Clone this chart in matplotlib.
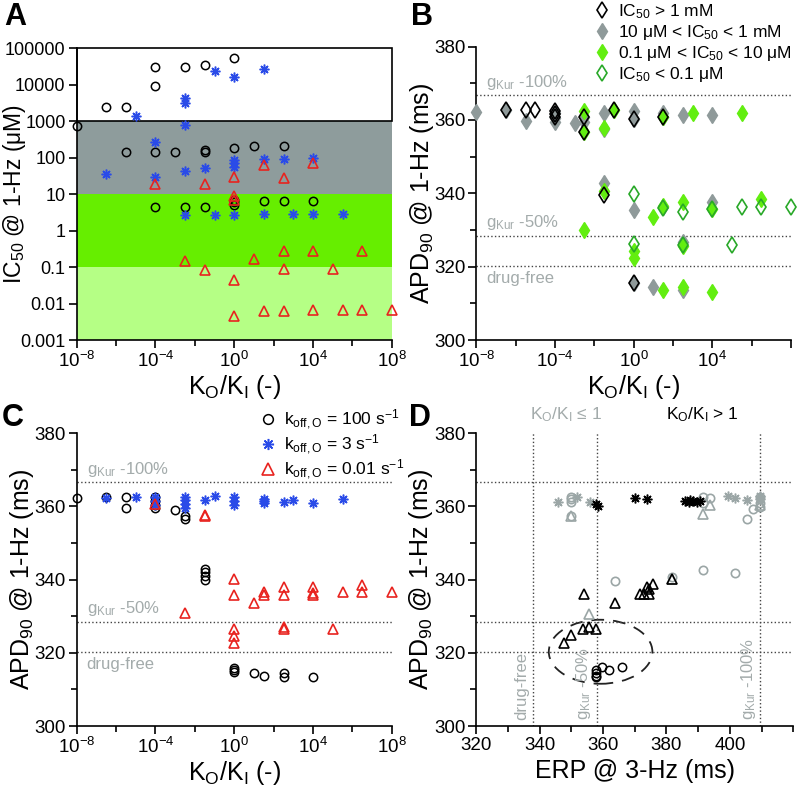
import matplotlib.pyplot as plt
import numpy as np
from matplotlib.patches import Rectangle, Ellipse
from matplotlib.lines import Line2D
from matplotlib.ticker import FixedLocator, NullFormatter, MultipleLocator

plt.rcParams['font.family'] = ['Liberation Sans', 'DejaVu Sans']
plt.rcParams['mathtext.fontset'] = 'custom'
plt.rcParams['mathtext.rm'] = 'Liberation Sans'
plt.rcParams['mathtext.it'] = 'Liberation Sans:italic'
plt.rcParams['mathtext.bf'] = 'Liberation Sans:bold'

# ---------------- data (x values as log10 of KO/KI) ----------------
# Panel A: IC50 @ 1-Hz (uM)
a_circ_x = [-8, -6.5, -5.5, -5.5, -4, -4, -4, -3, -2.5, -1.5, -1.5, -1.5, 0, 0, 1, 2.5,
            -4, -2.5, -1.5, 0, 0, 0, 1.5, 2.5, 4]
a_circ_y = [730, 2450, 2450, 145, 31000, 9100, 145, 145, 31000, 34000, 165, 145, 53000, 180, 205, 205,
            4.3, 4.3, 4.3, 6.8, 5.9, 5.0, 6.5, 6.5, 6.5]
a_ast_x = [-6.5, -5, -4, -4, -2.5, -2.5, -2.5, -2.5, -1.5, -1, 0, 0, 0, 0, 1.5, 1.5, 2.5, 4,
           -2.5, -1, 0, 1.5, 3, 4, 5.5]
a_ast_y = [36, 1380, 270, 30, 4200, 3100, 780, 43, 52, 23000, 16500, 85, 69, 57, 27000, 92, 92, 96,
           2.7, 2.7, 2.7, 2.8, 2.8, 2.8, 2.8]
a_tri_x = [-4, -1.5, 0, 0, 0, 1.5, 2.5, 4, -2.5, -1.5, 0, 0, 1, 1.5, 2.5, 2.5, 2.5, 4, 4, 5, 5.5, 6.5, 6.5, 8]
a_tri_y = [19, 19.5, 29, 8.7, 7.0, 62, 27, 72, 0.148, 0.082, 0.044, 0.0045, 0.17, 0.0064, 0.27, 0.087,
           0.0064, 0.27, 0.0068, 0.091, 0.0068, 0.27, 0.0068, 0.0068]

# Panel B: APD90 @ 1-Hz (ms) grouped by IC50 range
b_hi_x = [-6.5, -5.5, -5, -4, -4, -4, -2.5, -2.5, -1, 0, 1.5, -1.5, 0]
b_hi_y = [362.6, 362.6, 362.6, 362.3, 361.5, 360.8, 360.9, 356.8, 362.6, 360.2, 360.8, 339.6, 315.6]
b_mid_x = [-8, -6.5, -5.5, -4, -4, -4, -3, -2.5, -2.5, -1.5, -1.5, 0, 0, 1.5, 1.5, 2.5, 4,
           -1.5, 0, 1.5, 4, 2.5, 0, 1, 2.5]
b_mid_y = [362.1, 362.6, 359.6, 362.0, 360.5, 359.3, 359.1, 359.5, 360.9, 361.9, 357.5, 362.3, 360.2,
           361.9, 360.8, 361.3, 361.4, 342.8, 335.5, 336.2, 337.7, 326.8, 315.6, 314.4, 313.6]
b_low_x = [-2.5, -2.5, -1.5, -1, 1.5, 3, 5.5, -1.5, -2.5, 1, 2.5, 4, 6.5, 0, 0, 2.5, 1.5, 2.5, 4, 1.5]
b_low_y = [362.3, 356.8, 357.8, 362.6, 360.8, 361.8, 361.9, 340.7, 330.0, 333.5, 337.5, 335.7, 338.4,
           324.4, 322.3, 325.7, 313.6, 314.4, 313.2, 336.5]
b_vlow_x = [0, 0, 1.5, 2.5, 4, 5.5, 6.5, 8, 5, 2.5]
b_vlow_y = [339.8, 326.2, 336.0, 335.0, 335.7, 336.2, 336.2, 336.2, 325.9, 326.0]

# Panel C: APD90 @ 1-Hz (ms) grouped by koff,O
c_circ_x = [-8, -6.5, -5.5, -5.5, -4, -4, -4, -4, -3, -2.5, -2.5, -1.5, -1.5, -1.5, -1.5,
            0, 0, 0, 1, 1.5, 2.5, 2.5, 4]
c_circ_y = [362.2, 362.7, 362.7, 359.7, 362.5, 361.5, 360.5, 359.5, 359.0, 357.5, 356.5, 343, 342, 341, 340,
            315.8, 315.3, 314.8, 314.4, 313.7, 314.4, 313.3, 313.3]
c_ast_x = [-6.5, -5, -4, -4, -4, -2.5, -2.5, -2.5, -2.5, -1.5, -1, 0, 0, 0, 1.5, 1.5, 1.5, 2.5, 3, 4, 5.5]
c_ast_y = [362.4, 362.5, 362.5, 361.5, 360.5, 362.7, 361.7, 360.8, 359.5, 361.8, 362.9, 362.5, 361.5, 360.5,
           362.0, 361.5, 361.0, 361.2, 361.7, 361.0, 362.0]
c_tri_x = [-4, -1.5, -1.5, 0, 0, 0, 0, 0, -2.5, 1, 1.5, 1.5, 2.5, 2.5, 2.5, 2.5, 4, 4, 4, 5, 5.5, 6.5, 6.5, 8]
c_tri_y = [360.8, 357.8, 357.3, 340.2, 335.8, 326.4, 324.6, 322.8, 330.8, 333.7, 336.7, 335.8, 338.1, 335.8,
           327.1, 326.4, 338.1, 336.3, 335.8, 326.4, 336.7, 338.5, 336.7, 336.7]

# Panel D: APD90 vs ERP @ 3-Hz (ms); gray KO/KI <= 1, black KO/KI > 1
d_g_circ_x = [350, 350, 350, 350, 391.6, 393.7, 391.6, 405.3, 407.4, 409.5, 409.5, 409.5, 363.7, 391.6, 401.6, 381.6]
d_g_circ_y = [362.7, 362.0, 361.3, 357.5, 362.7, 362.2, 361.0, 356.7, 359.3, 362.5, 361.0, 359.8, 339.7, 342.6,
              341.9, 340.8]
d_g_ast_x = [345.8, 351.6, 355.8, 399.5, 401.6, 405.3, 409.5, 409.5]
d_g_ast_y = [361.3, 362.7, 361.3, 362.9, 362.2, 361.9, 363.0, 362.0]
d_g_tri_x = [350, 393.7, 391.6, 381.6, 355.6, 409.5]
d_g_tri_y = [357.3, 360.5, 357.9, 340.3, 330.6, 360.5]
d_k_ast_x = [357.9, 358.3, 370, 373.7, 386, 387, 388.4, 389.5, 390.5, 387.5]
d_k_ast_y = [360.6, 360.2, 362.2, 362.0, 361.5, 361.2, 361.5, 361.2, 361.4, 361.8]
d_k_tri_x = [373.7, 375.8, 374.5, 354, 363.7, 371.5, 373, 374.5, 353.7, 355.6, 357.9, 350, 347.7, 381.6]
d_k_tri_y = [338.1, 338.7, 337.5, 336.1, 333.7, 336.2, 336.0, 336.1, 326.4, 327.0, 326.4, 324.9, 322.8, 340.3]
d_k_circ_x = [357.9, 357.9, 357.9, 357.9, 359.8, 361.9, 365.8]
d_k_circ_y = [315.3, 314.6, 313.8, 313.3, 316.0, 315.3, 316.0]

ref_lines = [366.8, 328.3, 320.3]   # gKur -100%, gKur -50%, drug-free
erp_refs = [338, 358, 409.5]        # drug-free, gKur -50%, gKur -100%

GRAY_REG = '#8e9c9c'
GREEN_REG = '#66ee00'
LGREEN_REG = '#b5ff85'
BLUE = '#2a4be8'
RED = '#e8231f'
GRAY_TXT = '#a3abab'
GRAY_MK = '#8f9a9a'
GREEN_MK = '#62ee10'
GREEN_OPEN = '#28a828'
AST = (8, 2, 0)

TICK = 13.5
LAB = 18

fig = plt.figure(figsize=(7.98, 7.89), dpi=100)
axA = fig.add_axes([0.0961, 0.569, 0.395, 0.370])
axB = fig.add_axes([0.597, 0.569, 0.394, 0.372])
axC = fig.add_axes([0.0961, 0.0798, 0.395, 0.371])
axD = fig.add_axes([0.597, 0.0798, 0.397, 0.371])


def style(ax):
    for s in ['top', 'right']:
        ax.spines[s].set_visible(False)
    for s in ['left', 'bottom']:
        ax.spines[s].set_linewidth(1.2)
    ax.tick_params(which='major', direction='out', length=6, width=1.2, labelsize=TICK, pad=2)
    ax.tick_params(which='minor', direction='out', length=4, width=1.2)


def ko_axis(ax, last=True):
    ax.set_xscale('log')
    ax.set_xlim(1e-8, 1e8)
    ax.set_xticks([1e-8, 1e-4, 1, 1e4, 1e8])
    labs = [r'10$^{\mathregular{-8}}$', r'10$^{\mathregular{-4}}$', r'10$^{\mathregular{0}}$',
            r'10$^{\mathregular{4}}$', r'10$^{\mathregular{8}}$' if last else '']
    ax.set_xticklabels(labs)
    ax.xaxis.set_minor_locator(FixedLocator([1e-6, 1e-2, 1e2, 1e6]))
    ax.xaxis.set_minor_formatter(NullFormatter())
    ax.set_xlabel(r'K$_{\mathregular{O}}$/K$_{\mathregular{I}}$ (-)', fontsize=LAB)
    ax.xaxis.set_label_coords(0.5, -0.112)


def apd_axis(ax):
    ax.set_ylim(300, 380)
    ax.yaxis.set_major_locator(MultipleLocator(20))
    ax.yaxis.set_minor_locator(MultipleLocator(10))
    ax.set_ylabel(r'APD$_{\mathregular{90}}$ @ 1-Hz (ms)', fontsize=LAB)
    ax.yaxis.set_label_coords(-0.13, 0.5)


def pts(ax, x, y, logx=True, **kw):
    xv = 10.0 ** np.array(x) if logx else np.array(x)
    ax.plot(xv, y, linestyle='none', clip_on=False, **kw)


# ---------------- Panel A ----------------
style(axA)
axA.set_yscale('log')
axA.set_ylim(1e-3, 1e5)
ko_axis(axA)
axA.tick_params(axis='y', labelsize=13)
axA.axhspan(1e-3, 1e-1, color=LGREEN_REG, lw=0, zorder=0)
axA.axhspan(1e-1, 1e1, color=GREEN_REG, lw=0, zorder=0)
axA.axhspan(1e1, 1e3, color=GRAY_REG, lw=0, zorder=0)
axA.add_patch(Rectangle((1e-8, 1e3), 1e8 - 1e-8, 1e5 - 1e3, fill=False, ec='black', lw=1.2, zorder=1,
                        clip_on=False))
yt = [1e-3, 1e-2, 1e-1, 1, 10, 100, 1000, 10000, 100000]
axA.set_yticks(yt)
axA.set_yticklabels(['0.001', '0.01', '0.1', '1', '10', '100', '1000', '10000', '100000'])
axA.yaxis.set_minor_locator(FixedLocator([]))
fig.text(1 / 798, 1 - 194 / 789, r'IC$_{\mathregular{50}}$ @ 1-Hz (μM)', fontsize=16.5, rotation=90,
         ha='left', va='center')
pts(axA, a_circ_x, a_circ_y, marker='o', ms=6, mfc='none', mec='black', mew=1.1, zorder=3)
pts(axA, a_ast_x, a_ast_y, marker=AST, ms=7, mec=BLUE, mew=1.1, zorder=3)
pts(axA, a_tri_x, a_tri_y, marker='^', ms=7, mfc='none', mec=RED, mew=1.2, zorder=3)

# ---------------- Panel B ----------------
style(axB)
ko_axis(axB, last=False)
apd_axis(axB)
for yv in ref_lines:
    axB.axhline(yv, color='#444444', ls=':', lw=1.0)
pts(axB, b_mid_x, b_mid_y, marker='d', ms=8, mfc=GRAY_MK, mec=GRAY_MK, mew=1, zorder=3)
pts(axB, b_low_x, b_low_y, marker='d', ms=8, mfc=GREEN_MK, mec=GREEN_MK, mew=1, zorder=4)
pts(axB, b_vlow_x, b_vlow_y, marker='d', ms=8, mfc='none', mec=GREEN_OPEN, mew=1.2, zorder=5)
pts(axB, b_hi_x, b_hi_y, marker='d', ms=8, mfc='none', mec='black', mew=1.2, zorder=6)

# ---------------- Panel C ----------------
style(axC)
ko_axis(axC)
apd_axis(axC)
for yv in ref_lines:
    axC.axhline(yv, color='#444444', ls=':', lw=1.0)
pts(axC, c_circ_x, c_circ_y, marker='o', ms=6, mfc='none', mec='black', mew=1.1, zorder=3)
pts(axC, c_ast_x, c_ast_y, marker=AST, ms=7, mec=BLUE, mew=1.1, zorder=4)
pts(axC, c_tri_x, c_tri_y, marker='^', ms=7, mfc='none', mec=RED, mew=1.2, zorder=5)

for ax in (axB, axC):
    ax.text(10 ** -7.5, 367.6, r'g$_{\mathregular{Kur}}$ -100%', color=GRAY_TXT, fontsize=12, va='bottom')
    ax.text(10 ** -7.5, 329.4, r'g$_{\mathregular{Kur}}$ -50%', color=GRAY_TXT, fontsize=12, va='bottom')
    ax.text(10 ** -7.5, 318.9, 'drug-free', color=GRAY_TXT, fontsize=12, va='top')

# ---------------- Panel D ----------------
style(axD)
apd_axis(axD)
axD.set_xlim(320, 420)
axD.xaxis.set_major_locator(FixedLocator([320, 340, 360, 380, 400]))
axD.xaxis.set_minor_locator(FixedLocator([330, 350, 370, 390, 410, 420]))
axD.set_xlabel('ERP @ 3-Hz (ms)', fontsize=LAB)
axD.xaxis.set_label_coords(0.5, -0.112)
for yv in ref_lines:
    axD.axhline(yv, color='#444444', ls=':', lw=1.0)
for xv in erp_refs:
    axD.axvline(xv, color='#444444', ls=':', lw=1.0)
axD.add_patch(Ellipse((359.2, 320.3), 32.7, 17.5, fill=False, ec='#222222', lw=1.3, ls=(0, (7, 5))))
DG = '#9ba6a6'
pts(axD, d_g_circ_x, d_g_circ_y, logx=False, marker='o', ms=6, mfc='none', mec=DG, mew=1.2, zorder=3)
pts(axD, d_g_ast_x, d_g_ast_y, logx=False, marker=AST, ms=7, mec=DG, mew=1.1, zorder=3)
pts(axD, d_g_tri_x, d_g_tri_y, logx=False, marker='^', ms=7, mfc='none', mec=DG, mew=1.2, zorder=3)
pts(axD, d_k_circ_x, d_k_circ_y, logx=False, marker='o', ms=6, mfc='none', mec='black', mew=1.1, zorder=4)
pts(axD, d_k_ast_x, d_k_ast_y, logx=False, marker=AST, ms=7, mec='black', mew=1.1, zorder=4)
pts(axD, d_k_tri_x, d_k_tri_y, logx=False, marker='^', ms=7, mfc='none', mec='black', mew=1.2, zorder=4)
axD.text(334.2, 301.6, 'drug-free', rotation=90, color=GRAY_TXT, fontsize=12, ha='center', va='bottom')
axD.text(353.7, 301.6, r'g$_{\mathregular{Kur}}$ -50%', rotation=90, color=GRAY_TXT, fontsize=12,
         ha='center', va='bottom')
axD.text(405.8, 301.6, r'g$_{\mathregular{Kur}}$ -100%', rotation=90, color=GRAY_TXT, fontsize=12,
         ha='center', va='bottom')
axD.text(348.2, 385.2, r'K$_{\mathregular{O}}$/K$_{\mathregular{I}}$ ≤ 1', color=GRAY_TXT, fontsize=12.5,
         ha='center', va='center', clip_on=False)
axD.text(391.2, 385.2, r'K$_{\mathregular{O}}$/K$_{\mathregular{I}}$ > 1', color='black', fontsize=12.5,
         ha='center', va='center', clip_on=False)

# ---------------- legends ----------------
hB = [Line2D([], [], ls='none', marker='d', ms=8, mfc='none', mec='black', mew=1.2),
      Line2D([], [], ls='none', marker='d', ms=8, mfc=GRAY_MK, mec=GRAY_MK),
      Line2D([], [], ls='none', marker='d', ms=8, mfc=GREEN_MK, mec=GREEN_MK),
      Line2D([], [], ls='none', marker='d', ms=8, mfc='none', mec=GREEN_OPEN, mew=1.2)]
lB = [r'IC$_{\mathregular{50}}$ > 1 mM', r'10 μM < IC$_{\mathregular{50}}$ < 1 mM',
      r'0.1 μM < IC$_{\mathregular{50}}$ < 10 μM', r'IC$_{\mathregular{50}}$ < 0.1 μM']
fig.legend(hB, lB, loc='upper left', bbox_to_anchor=(595 / 798, 1 - 2 / 789), frameon=False,
           fontsize=12.5, handlelength=0.8, handletextpad=0.5, labelspacing=0.12, borderpad=0,
           borderaxespad=0)

hC = [Line2D([], [], ls='none', marker='o', ms=7, mfc='none', mec='black', mew=1.1),
      Line2D([], [], ls='none', marker=AST, ms=8, mec=BLUE, mew=1.1),
      Line2D([], [], ls='none', marker='^', ms=8, mfc='none', mec=RED, mew=1.2)]
lC = [r'k$_{\mathregular{off,O}}$ = 100 s$^{\mathregular{-1}}$', r'k$_{\mathregular{off,O}}$ = 3 s$^{\mathregular{-1}}$',
      r'k$_{\mathregular{off,O}}$ = 0.01 s$^{\mathregular{-1}}$']
fig.legend(hC, lC, loc='upper left', bbox_to_anchor=(261 / 798, 1 - 408 / 789), frameon=False,
           fontsize=12.5, handlelength=0.8, handletextpad=0.5, labelspacing=0.05, borderpad=0,
           borderaxespad=0)

# panel letters
for lab, x, y in [('A', 4, 2), ('B', 411, 2), ('C', 2, 403), ('D', 409, 403)]:
    fig.text(x / 798, 1 - y / 789, lab, fontsize=22, fontweight='bold', ha='left', va='top')

fig.savefig('out.png', dpi=100)
